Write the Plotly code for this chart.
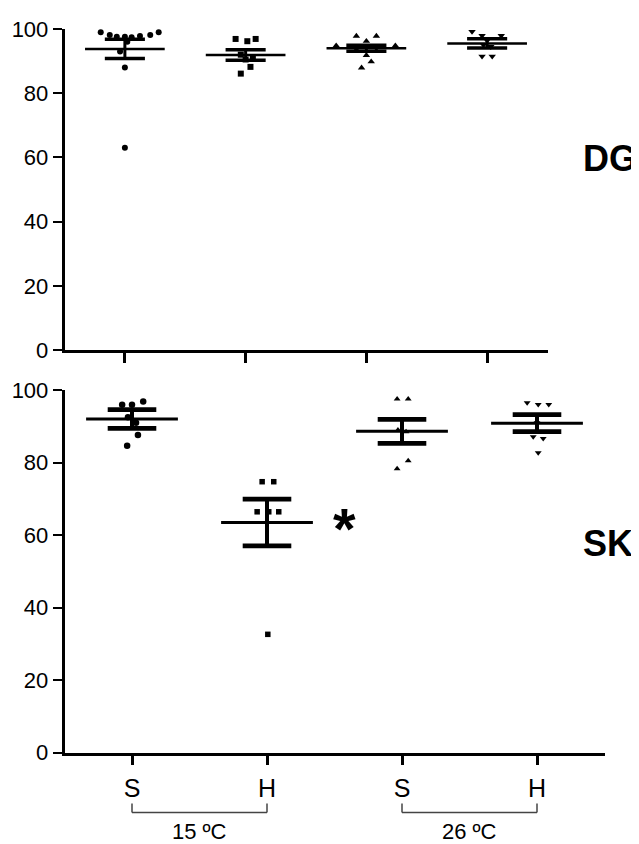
import plotly.graph_objects as go

# ---------------- data ----------------
categories = ["S", "H", "S", "H"]
temperature_groups = ["15 ºC", "26 ºC"]
panel_labels = ["DG", "SK"]

# DG panel (top): individual values per group
dg_values = [
    [100.2, 99.0, 98.1, 97.6, 97.6, 97.4, 97.8, 98.1, 99.0, 96.0, 93.0, 88.0, 63.0],
    [96.9, 96.2, 96.9, 92.0, 91.0, 90.5, 88.2, 86.1],
    [94.8, 97.8, 96.2, 97.8, 94.8, 91.8, 89.8, 87.9, 93.5, 93.2],
    [99.2, 97.9, 97.9, 96.4, 95.0, 94.5, 91.5, 91.5],
]
# horizontal scatter of the points (category units)
dg_spread = [
    [-0.28, -0.20, -0.125, -0.067, 0.0, 0.056, 0.125, 0.21, 0.28, 0.02, -0.04, 0.0, 0.0],
    [-0.083, 0.014, 0.083, -0.04, 0.06, 0.0, 0.04, -0.04],
    [-0.25, -0.083, 0.0, 0.083, 0.24, 0.0, 0.04, -0.04, -0.083, 0.083],
    [-0.125, -0.042, 0.117, 0.0, -0.03, 0.03, -0.042, 0.042],
]
dg_mean = [93.8, 91.9, 94.0, 95.5]
dg_sem = [3.0, 1.6, 0.9, 1.45]

# SK panel (bottom)
sk_values = [
    [95.9, 95.9, 96.8, 92.5, 91.0, 87.6, 84.6],
    [74.7, 74.7, 66.4, 66.4, 66.4, 32.6],
    [97.5, 97.5, 89.0, 88.5, 80.5, 78.3],
    [96.5, 96.0, 96.0, 91.0, 87.1, 86.6, 82.7],
]
sk_spread = [
    [-0.073, 0.0, 0.083, -0.03, 0.03, 0.044, -0.036],
    [-0.036, 0.05, -0.073, 0.013, 0.087, 0.006],
    [-0.036, 0.046, -0.03, 0.03, 0.046, -0.036],
    [-0.073, 0.009, 0.087, 0.0, -0.028, 0.046, 0.009],
]
sk_mean = [92.0, 63.45, 88.6, 90.85]
sk_sem = [2.6, 6.45, 3.3, 2.35]

y_ticks = [0, 20, 40, 60, 80, 100]
significance = {"text": "*", "x": 1.575, "y": 61.7}

# ---------------- style / layout ----------------
symbols = ["circle", "square", "triangle-up", "triangle-down"]
FONT = "Liberation Sans, Arial, sans-serif"
W, H = 639, 844
OX, OY = 8, 8  # page body margin offset of the figure div


def px(x):
    return (x - OX) / W


def py(y):
    return 1 - (y - OY) / H


fig = go.Figure()


def add_panel(values, spread, means, sems, xa, ya, msizes, mean_hw, sem_hw, lw):
    for i, vals in enumerate(values):
        fig.add_trace(go.Scatter(
            x=[i + d for d in spread[i]], y=vals, mode="markers",
            marker=dict(symbol=symbols[i], size=msizes[i], color="black"),
            xaxis=xa, yaxis=ya, cliponaxis=False, showlegend=False, hoverinfo="y"))
    for i, (m, s) in enumerate(zip(means, sems)):
        fig.add_trace(go.Scatter(
            x=[i - mean_hw, i + mean_hw], y=[m, m], mode="lines",
            line=dict(color="black", width=lw[0]),
            xaxis=xa, yaxis=ya, showlegend=False, hoverinfo="skip"))
        fig.add_trace(go.Scatter(
            x=[i - sem_hw, i + sem_hw, None, i - sem_hw, i + sem_hw],
            y=[m + s, m + s, None, m - s, m - s], mode="lines",
            line=dict(color="black", width=lw[1]),
            xaxis=xa, yaxis=ya, showlegend=False, hoverinfo="skip"))
        fig.add_trace(go.Scatter(
            x=[i, i], y=[m - s, m + s], mode="lines",
            line=dict(color="black", width=lw[2]),
            xaxis=xa, yaxis=ya, showlegend=False, hoverinfo="skip"))


add_panel(dg_values, dg_spread, dg_mean, dg_sem, "x", "y",
          [6, 6, 6.5, 6.5], 0.33, 0.166, (2.5, 3.5, 3))
add_panel(sk_values, sk_spread, sk_mean, sk_sem, "x2", "y2",
          [6.5, 5.5, 6, 6], 0.34, 0.18, (3, 4.7, 4))

axis_common = dict(showline=True, linecolor="black", linewidth=2.5, showgrid=False,
                   zeroline=False, ticks="outside", tickcolor="black", automargin=False,
                   tickfont=dict(family=FONT, size=22, color="black"))

fig.update_layout(
    width=W, height=H, margin=dict(l=0, r=0, t=0, b=0, pad=0, autoexpand=False),
    paper_bgcolor="white", plot_bgcolor="white", showlegend=False,
    xaxis=dict(axis_common, domain=[px(64.5), px(547.5)], range=[-0.5, 3.5], anchor="y",
               tickvals=[0, 1, 2, 3], ticktext=["", "", "", ""],
               ticklen=10, tickwidth=2.5),
    yaxis=dict(axis_common, domain=[py(350), py(29)], range=[0, 100], anchor="x",
               tickvals=y_ticks, ticklen=9, tickwidth=2),
    xaxis2=dict(axis_common, domain=[px(64.5), px(604.5)], range=[-0.5, 3.5], anchor="y2",
                tickvals=[0, 1, 2, 3], ticktext=categories, ticklabelstandoff=2,
                ticklen=10, tickwidth=2.5, tickfont=dict(family=FONT, size=25, color="black")),
    yaxis2=dict(axis_common, domain=[py(752.5), py(390)], range=[0, 100], anchor="x2",
                tickvals=y_ticks, ticklen=9, tickwidth=2),
)

fig.add_annotation(text="<b>%s</b>" % panel_labels[0], xref="paper", yref="paper",
                   x=px(610), y=py(158), xanchor="center", yanchor="middle", showarrow=False,
                   font=dict(family=FONT, size=36, color="black"))
fig.add_annotation(text="<b>%s</b>" % panel_labels[1], xref="paper", yref="paper",
                   x=px(608), y=py(543), xanchor="center", yanchor="middle", showarrow=False,
                   font=dict(family=FONT, size=36, color="black"))

fig.add_annotation(text="<b>%s</b>" % significance["text"], xref="x2", yref="y2",
                   x=significance["x"], y=significance["y"], xanchor="center",
                   yanchor="middle", showarrow=False,
                   font=dict(family=FONT, size=58, color="black"))

bracket_top = py(803.5)
bracket_bot = py(812.5)
for k, label in enumerate(temperature_groups):
    a, b = 2 * k, 2 * k + 1
    for (x0, y0, x1, y1) in [(a, bracket_top, a, bracket_bot),
                             (a, bracket_bot, b, bracket_bot),
                             (b, bracket_bot, b, bracket_top)]:
        fig.add_shape(type="line", xref="x2", yref="paper", x0=x0, y0=y0, x1=x1, y1=y1,
                      line=dict(color="#444444", width=1.5))
    fig.add_annotation(text=label, xref="x2", yref="paper", x=(a + b) / 2, y=py(831.5),
                       xanchor="center", yanchor="middle", showarrow=False, borderpad=0,
                       font=dict(family=FONT, size=22, color="black"))

fig.write_html("out.html")
